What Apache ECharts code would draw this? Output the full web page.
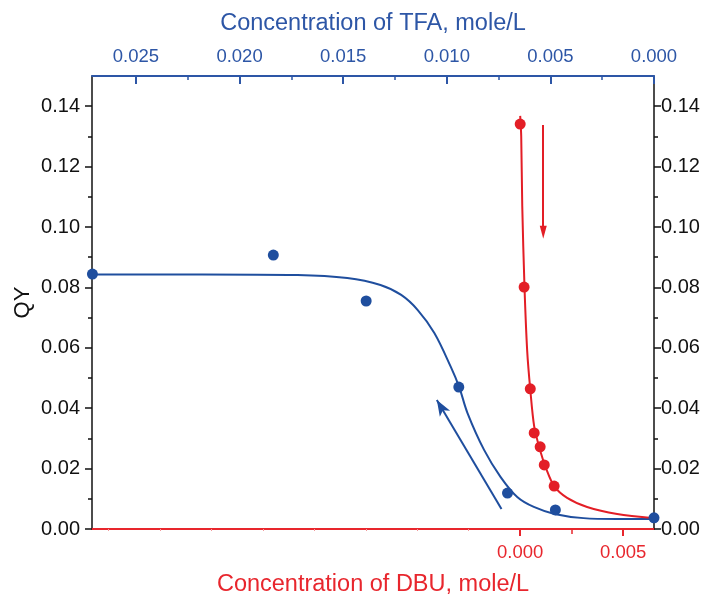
<!DOCTYPE html>
<html>
<head>
<meta charset="utf-8">
<script src="https://cdn.jsdelivr.net/npm/echarts@6/dist/echarts.min.js"></script>
<style>
html,body{margin:0;padding:0;background:#fff;}
#chart{width:710px;height:601px;}
</style>
</head>
<body>
<div id="chart"></div>
<script>
// ---- tick values ----
const tfaTicks = [0, 0.005, 0.010, 0.015, 0.020, 0.025];
const tfaMinorTicks = [0.0025, 0.0075, 0.0125, 0.0175, 0.0225];
const dbuTicks = [0, 0.005];
const dbuMinorTicks = [0.0025];
const dbuFaintTicks = [-0.0025, -0.005, -0.0075, -0.010, -0.0125, -0.015, -0.0175, -0.020];
const qyTicks = [0, 0.02, 0.04, 0.06, 0.08, 0.10, 0.12, 0.14];
const qyMinorTicks = [0.01, 0.03, 0.05, 0.07, 0.09, 0.11, 0.13];

// ---- blue series (TFA, top axis) ----
const blueTFA = [0.0271, 0.01837, 0.01389, 0.00942, 0.00707, 0.00476, 0.0000];
const blueQY  = [0.0844, 0.0907, 0.0755, 0.0470, 0.0119, 0.0063, 0.0037];
const blueFitTFA = [0.0271, 0.0218, 0.0172, 0.0148, 0.0132, 0.0122, 0.0114, 0.0106, 0.0098, 0.0094, 0.0090, 0.0082, 0.0074, 0.0066, 0.0058, 0.0048, 0.0034, 0.0018, 0.0000];
const blueFitQY  = [0.0843, 0.0843, 0.0841, 0.0831, 0.0808, 0.0775, 0.0725, 0.0649, 0.0536, 0.0470, 0.0384, 0.0262, 0.0172, 0.0106, 0.0073, 0.0050, 0.0036, 0.0033, 0.0033];
const blueArrowTFA = [0.00736, 0.01048];
const blueArrowQY  = [0.0066, 0.0427];

// ---- red series (DBU, bottom axis) ----
const redDBU = [0.0000, 0.00019, 0.00049, 0.00068, 0.00097, 0.00117, 0.00165];
const redQY  = [0.1341, 0.0801, 0.0464, 0.0318, 0.0272, 0.0212, 0.0142];
const redFitDBU = [0.0000, 0.00005, 0.00010, 0.00021, 0.00034, 0.00049, 0.00068, 0.00097, 0.00126, 0.00165, 0.00228, 0.00325, 0.00471, 0.00650];
const redFitQY  = [0.1368, 0.1300, 0.1070, 0.0800, 0.0590, 0.0462, 0.0340, 0.0260, 0.0200, 0.0142, 0.0103, 0.0073, 0.0050, 0.0036];
const redArrowDBU = [0.00112, 0.00112];
const redArrowQY  = [0.1338, 0.0983];

const BLUE = '#1f4e9e', BLUE_AX = '#2d56a6';
const RED = '#e31e26', RED_AX = '#e8262d';
const FONT = 'Liberation Sans, Arial, sans-serif';

const zip = (a, b) => a.map((v, i) => [v, b[i]]);

const DBU_MIN = -0.0208, DBU_MAX = 0.0065;
const TFA_MIN = 0, TFA_MAX = 0.02712;
const QY_MIN = 0, QY_MAX = 0.15;

function hiddenX(pos, inverse, min, max, vals, len, inside, color, width) {
  return {
    type: 'value', position: pos, inverse: inverse, min: min, max: max,
    axisLine: {show: false, onZero: false}, splitLine: {show: false}, axisLabel: {show: false},
    axisTick: {show: true, inside: inside, length: len, customValues: vals, lineStyle: {color: color, width: width}}
  };
}
function hiddenY(pos, vals, len) {
  return {
    type: 'value', position: pos, min: QY_MIN, max: QY_MAX,
    axisLine: {show: false, onZero: false}, splitLine: {show: false}, axisLabel: {show: false},
    axisTick: {show: true, inside: false, length: len, customValues: vals, lineStyle: {color: '#111', width: 1.5}}
  };
}

const chart = echarts.init(document.getElementById('chart'), null, {renderer: 'canvas'});
chart.setOption({
  animation: false,
  backgroundColor: '#fff',
  grid: {left: 92, right: 56, top: 76, bottom: 72, containLabel: false, outerBoundsMode: 'none'},
  xAxis: [
    { // 0 bottom DBU
      type: 'value', position: 'bottom', min: DBU_MIN, max: DBU_MAX,
      name: 'Concentration of DBU, mole/L', nameLocation: 'middle', nameGap: 44, nameMoveOverlap: false,
      nameTextStyle: {color: RED_AX, fontSize: 23.5, fontFamily: FONT},
      axisLine: {show: true, onZero: false, lineStyle: {color: RED_AX, width: 2}},
      axisTick: {show: true, inside: false, length: 7, customValues: dbuTicks, lineStyle: {color: RED_AX, width: 2}},
      axisLabel: {show: true, customValues: dbuTicks, margin: 14, color: RED_AX, fontSize: 18.5, fontFamily: FONT,
        formatter: v => v.toFixed(3)},
      splitLine: {show: false}
    },
    { // 1 top TFA
      type: 'value', position: 'top', inverse: true, min: TFA_MIN, max: TFA_MAX,
      name: 'Concentration of TFA, mole/L', nameLocation: 'middle', nameGap: 40, nameMoveOverlap: false,
      nameTextStyle: {color: BLUE_AX, fontSize: 23.5, fontFamily: FONT},
      axisLine: {show: true, onZero: false, lineStyle: {color: BLUE_AX, width: 2}},
      axisTick: {show: true, inside: true, length: 8, customValues: tfaTicks, lineStyle: {color: BLUE_AX, width: 2}},
      axisLabel: {show: true, customValues: tfaTicks, margin: 10, color: BLUE_AX, fontSize: 18.5, fontFamily: FONT,
        formatter: v => v.toFixed(3)},
      splitLine: {show: false}
    },
    hiddenX('bottom', false, DBU_MIN, DBU_MAX, dbuMinorTicks, 5, false, RED_AX, 1.5),
    hiddenX('bottom', false, DBU_MIN, DBU_MAX, dbuFaintTicks, 2, false, '#f19a9d', 1),
    hiddenX('top', true, TFA_MIN, TFA_MAX, tfaMinorTicks, 4, true, BLUE_AX, 1.5)
  ],
  yAxis: [
    { // 0 left
      type: 'value', position: 'left', min: QY_MIN, max: QY_MAX,
      name: 'QY', nameLocation: 'middle', nameGap: 58, nameRotate: 90, nameMoveOverlap: false,
      nameTextStyle: {color: '#111', fontSize: 22, fontFamily: FONT},
      axisLine: {show: true, onZero: false, lineStyle: {color: '#111', width: 1.5}},
      axisTick: {show: true, inside: false, length: 7, customValues: qyTicks, lineStyle: {color: '#111', width: 1.5}},
      axisLabel: {show: true, customValues: qyTicks, margin: 12, color: '#111', fontSize: 20, fontFamily: FONT,
        formatter: v => v.toFixed(2)},
      splitLine: {show: false}
    },
    { // 1 right
      type: 'value', position: 'right', min: QY_MIN, max: QY_MAX,
      axisLine: {show: true, onZero: false, lineStyle: {color: '#111', width: 1.5}},
      axisTick: {show: true, inside: false, length: 7, customValues: qyTicks, lineStyle: {color: '#111', width: 1.5}},
      axisLabel: {show: true, customValues: qyTicks, margin: 7, color: '#111', fontSize: 20, fontFamily: FONT,
        formatter: v => v.toFixed(2)},
      splitLine: {show: false}
    },
    hiddenY('left', qyMinorTicks, 4),
    hiddenY('right', qyMinorTicks, 4)
  ],
  series: [
    {
      type: 'line', name: 'TFA fit', xAxisIndex: 1, yAxisIndex: 0,
      data: zip(blueFitTFA, blueFitQY), smooth: 0.35, showSymbol: false, symbol: 'none',
      lineStyle: {color: BLUE, width: 2}, z: 3,
      markLine: {
        silent: true, symbol: ['none', 'arrow'], symbolSize: [9, 16],
        label: {show: false},
        lineStyle: {color: BLUE, width: 2, type: 'solid'},
        data: [[{coord: [blueArrowTFA[0], blueArrowQY[0]]}, {coord: [blueArrowTFA[1], blueArrowQY[1]]}]]
      }
    },
    {
      type: 'scatter', name: 'TFA', xAxisIndex: 1, yAxisIndex: 0,
      data: zip(blueTFA, blueQY), symbol: 'circle', symbolSize: 11,
      itemStyle: {color: BLUE, opacity: 1}, z: 5
    },
    {
      type: 'line', name: 'DBU fit', xAxisIndex: 0, yAxisIndex: 0,
      data: zip(redFitDBU, redFitQY), smooth: 0.3, showSymbol: false, symbol: 'none',
      lineStyle: {color: RED, width: 2}, z: 3,
      markLine: {
        silent: true, symbol: ['none', 'triangle'], symbolSize: [7, 13],
        label: {show: false},
        lineStyle: {color: RED, width: 2, type: 'solid'},
        data: [[{coord: [redArrowDBU[0], redArrowQY[0]]}, {coord: [redArrowDBU[1], redArrowQY[1]]}]]
      }
    },
    {
      type: 'scatter', name: 'DBU', xAxisIndex: 0, yAxisIndex: 0,
      data: zip(redDBU, redQY), symbol: 'circle', symbolSize: 11,
      itemStyle: {color: RED, opacity: 1}, z: 5
    }
  ]
});
</script>
</body>
</html>
